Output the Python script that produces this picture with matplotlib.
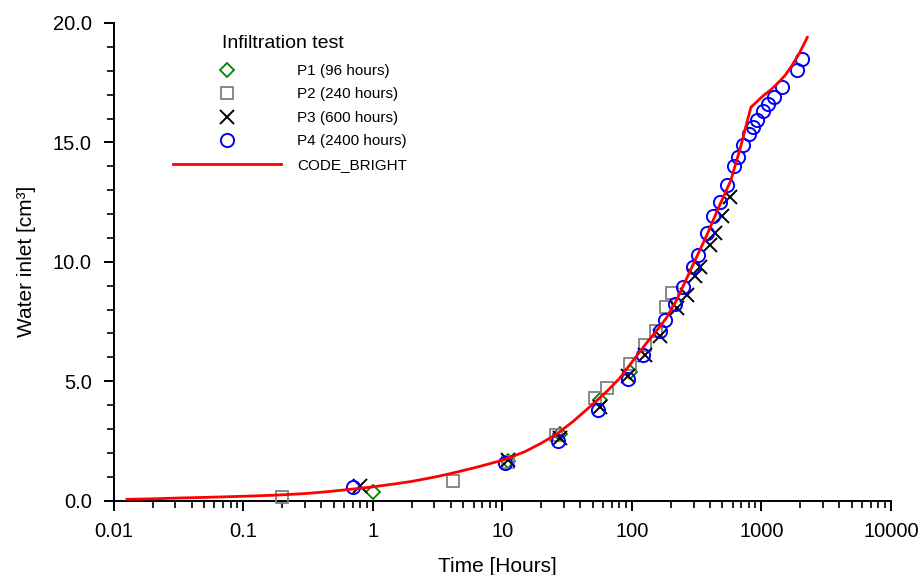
import numpy as np
import matplotlib.pyplot as plt
from matplotlib.ticker import MultipleLocator, LogLocator, FixedFormatter, FixedLocator

plt.rcParams['font.family'] = ['Liberation Sans', 'DejaVu Sans']

# -----------------------------
# data
# -----------------------------
p1_t = [1.0, 11, 28, 57, 96]
p1_v = [0.35, 1.65, 2.8, 4.2, 5.4]

p2_t = [0.2, 4.2, 11, 26, 52, 64, 97, 126, 155, 185, 205]
p2_v = [0.15, 0.8, 1.6, 2.75, 4.3, 4.7, 5.7, 6.5, 7.1, 8.1, 8.7]

p3_t = [0.8, 11, 28, 57, 94, 126, 165, 222, 265, 307, 336, 401, 438, 493, 571]
p3_v = [0.6, 1.7, 2.6, 3.9, 5.2, 6.1, 6.9, 8.05, 8.6, 9.4, 9.8, 10.7, 11.2, 11.9, 12.7]

p4_t = [0.7, 10.5, 27, 55, 93, 122, 165, 180, 215, 250, 298, 325, 378, 425, 478,
        538, 614, 663, 716, 801, 856, 919, 1022, 1128, 1247, 1445, 1870, 2044]
p4_v = [0.55, 1.55, 2.5, 3.8, 5.1, 6.1, 7.1, 7.55, 8.25, 8.95, 9.8, 10.3, 11.2, 11.9, 12.5,
        13.2, 14.0, 14.4, 14.9, 15.35, 15.65, 15.95, 16.3, 16.6, 16.9, 17.3, 18.05, 18.5]

cb_t = [0.0127, 0.02, 0.03, 0.05, 0.079, 0.12, 0.19, 0.3, 0.45, 0.65, 1.0, 1.5, 2.0, 3.0,
        4.0, 6.0, 8.0, 10.5, 15, 20, 26.6, 35, 48, 65, 80, 97, 130, 160, 185,
        222, 281, 378, 470, 580, 690, 770, 830, 920, 1030, 1180, 1350, 1520, 1710, 1950, 2260]
cb_v = [0.05, 0.07, 0.1, 0.13, 0.16, 0.19, 0.23, 0.29, 0.37, 0.46, 0.57, 0.7, 0.8, 0.98,
        1.13, 1.36, 1.54, 1.72, 2.05, 2.4, 2.8, 3.3, 3.95, 4.6, 5.1, 5.7, 6.6, 7.2, 7.65,
        8.4, 9.6, 11.1, 12.3, 13.4, 14.8, 15.8, 16.47, 16.7, 16.95, 17.2, 17.5, 17.8, 18.2, 18.7, 19.4]

x_ticks = [0.01, 0.1, 1, 10, 100, 1000, 10000]
x_labels = ["0.01", "0.1", "1", "10", "100", "1000", "10000"]

# -----------------------------
# figure
# -----------------------------
fig = plt.figure(figsize=(9.18, 5.75), dpi=100)
ax = fig.add_axes([113.5 / 918, 1 - 500.5 / 575, (891 - 113.5) / 918, (500.5 - 23) / 575])

ax.plot(p1_t, p1_v, linestyle="none", marker="D", ms=7.5, mfc="none", mec="#008000",
        mew=1.3, label="P1 (96 hours)", clip_on=False, zorder=3)
ax.plot(p2_t, p2_v, linestyle="none", marker="s", ms=9, mfc="none", mec="#808080",
        mew=1.3, label="P2 (240 hours)", clip_on=False, zorder=3)
ax.plot(p3_t, p3_v, linestyle="none", marker="x", ms=10, mec="black",
        mew=1.4, label="P3 (600 hours)", clip_on=False, zorder=3)
ax.plot(p4_t, p4_v, linestyle="none", marker="o", ms=9.5, mfc="none", mec="#0000ff",
        mew=1.4, label="P4 (2400 hours)", clip_on=False, zorder=3)
ax.plot(cb_t, cb_v, color="#ff0000", lw=2, label="CODE_BRIGHT", zorder=4)

# 축 설정
ax.set_xscale("log")
ax.set_xlim(0.01, 10000)
ax.set_ylim(0, 20)
ax.xaxis.set_major_locator(FixedLocator(x_ticks))
ax.xaxis.set_major_formatter(FixedFormatter(x_labels))
ax.xaxis.set_minor_locator(LogLocator(base=10, subs=np.arange(2, 10), numticks=20))
ax.yaxis.set_major_locator(MultipleLocator(5))
ax.yaxis.set_minor_locator(MultipleLocator(1))
ax.yaxis.set_major_formatter(plt.FuncFormatter(lambda v, p: f"{v:.1f}"))

for s in ["top", "right"]:
    ax.spines[s].set_visible(False)
for s in ["left", "bottom"]:
    ax.spines[s].set_linewidth(1.4)

ax.tick_params(which="major", direction="out", length=7.5, width=1.4, labelsize=14.5, pad=8)
ax.tick_params(which="minor", direction="out", length=4.8, width=1.2)

ax.set_xlabel("Time [Hours]", fontsize=15)
ax.xaxis.set_label_coords((497 - 113.5) / (891 - 113.5), -0.118)
ax.set_ylabel("Water inlet [cm³]", fontsize=15, labelpad=12)

# 범례
fig.text(283 / 918, 1 - 43 / 575, "Infiltration test", fontsize=14, ha="center", va="center")
leg = ax.legend(
    loc="upper left",
    bbox_to_anchor=(173 / 918, 1 - 64 / 575),
    bbox_transform=fig.transFigure,
    frameon=False,
    fontsize=11,
    handlelength=7.1,
    handletextpad=1.0,
    labelspacing=0.62,
    borderpad=0,
    borderaxespad=0,
)

plt.savefig("out.png", dpi=100)
